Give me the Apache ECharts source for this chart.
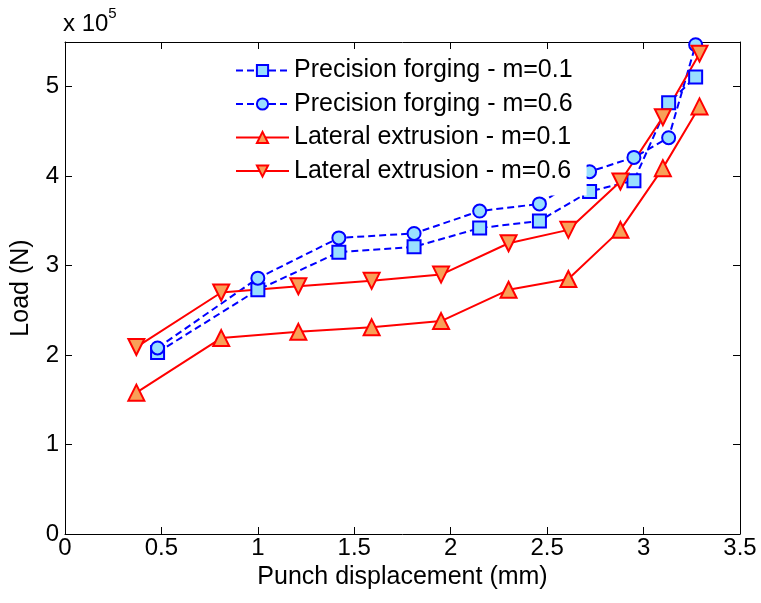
<!DOCTYPE html>
<html>
<head>
<meta charset="utf-8">
<script src="https://cdn.jsdelivr.net/npm/echarts@6/dist/echarts.min.js"></script>
<style>
  html, body { margin: 0; padding: 0; background: #fff; }
  #chart { width: 761px; height: 603px; }
</style>
</head>
<body>
<div id="chart"></div>
<script>
// load values in units of 1e5 N
const seriesNames = [
  'Precision forging - m=0.1',
  'Precision forging - m=0.6',
  'Lateral extrusion - m=0.1',
  'Lateral extrusion - m=0.6'
];
const precisionX = [0.48, 1.0, 1.42, 1.81, 2.15, 2.46, 2.72, 2.95, 3.13, 3.27];
const precision01 = [2.03, 2.73, 3.15, 3.21, 3.42, 3.50, 3.83, 3.95, 4.82, 5.11];
const precision06 = [2.08, 2.86, 3.31, 3.36, 3.61, 3.69, 4.05, 4.21, 4.43, 5.47];
const lateralX = [0.37, 0.81, 1.21, 1.59, 1.95, 2.30, 2.61, 2.88, 3.10, 3.29];
const lateral01 = [1.58, 2.19, 2.26, 2.31, 2.38, 2.73, 2.85, 3.40, 4.09, 4.78];
const lateral06 = [2.09, 2.70, 2.77, 2.83, 2.90, 3.25, 3.40, 3.94, 4.66, 5.37];

const font = 'Liberation Sans, Arial, sans-serif';
const blue = '#0000ff';
const red = '#ff0000';

function pairs(xs, ys) {
  return xs.map((x, i) => [x, ys[i]]);
}

function boxAxis(base) {
  return Object.assign({
    axisLine: { show: true, onZero: false, lineStyle: { color: '#000', width: 1 } },
    axisTick: { show: true, inside: true, length: 7, lineStyle: { color: '#000' } },
    splitLine: { show: false }
  }, base);
}

const chart = echarts.init(document.getElementById('chart'), null, { renderer: 'canvas' });

const option = {
  animation: false,
  backgroundColor: '#fff',
  textStyle: { fontFamily: font },
  grid: { left: 65, right: 21, top: 42, bottom: 69 },
  legend: {
    left: 229,
    top: 54,
    orient: 'vertical',
    itemWidth: 53,
    itemHeight: 14,
    itemGap: 8.5,
    padding: [4, 14, 12, 6],
    backgroundColor: '#fff',
    textStyle: { fontFamily: font, fontSize: 25, lineHeight: 25, color: '#000' },
    data: seriesNames
  },
  xAxis: [
    boxAxis({
      type: 'value', min: 0, max: 3.5, interval: 0.5,
      name: 'Punch displacement (mm)', nameLocation: 'middle', nameGap: 29,
      nameTextStyle: { fontFamily: font, fontSize: 25, color: '#000' },
      axisLabel: { fontFamily: font, fontSize: 24, color: '#000', margin: 2 }
    }),
    boxAxis({
      type: 'value', min: 0, max: 3.5, interval: 0.5, position: 'top',
      axisLabel: { show: false }
    })
  ],
  yAxis: [
    boxAxis({
      type: 'value', min: 0, max: 5.5, interval: 1,
      name: 'Load (N)', nameLocation: 'middle', nameGap: 31,
      nameTextStyle: { fontFamily: font, fontSize: 25, color: '#000' },
      axisLabel: {
        fontFamily: font, fontSize: 24, color: '#000', margin: 6,
        formatter: v => (v > 5 ? '' : String(v))
      }
    }),
    boxAxis({
      type: 'value', min: 0, max: 5.5, interval: 1, position: 'right',
      axisLabel: { show: false }
    })
  ],
  graphic: [{
    type: 'text',
    left: 63,
    top: 6,
    style: {
      text: '{a|x 10}{b|5}',
      rich: {
        a: { fontFamily: font, fontSize: 24, fill: '#000', verticalAlign: 'bottom', lineHeight: 30 },
        b: { fontFamily: font, fontSize: 15, fill: '#000', verticalAlign: 'top', padding: [0, 0, 14, 0] }
      }
    }
  }],
  series: [
    {
      name: seriesNames[0], type: 'line',
      data: pairs(precisionX, precision01),
      symbol: 'rect', symbolSize: 13,
      lineStyle: { color: blue, width: 2, type: [7, 4] },
      itemStyle: { color: '#99dfff', borderColor: blue, borderWidth: 2 }
    },
    {
      name: seriesNames[1], type: 'line',
      data: pairs(precisionX, precision06),
      symbol: 'circle', symbolSize: 13,
      lineStyle: { color: blue, width: 2, type: [7, 4] },
      itemStyle: { color: '#99dfff', borderColor: blue, borderWidth: 2 }
    },
    {
      name: seriesNames[2], type: 'line',
      data: pairs(lateralX, lateral01),
      symbol: 'triangle', symbolSize: 16,
      lineStyle: { color: red, width: 2 },
      itemStyle: { color: '#f8a058', borderColor: red, borderWidth: 2 }
    },
    {
      name: seriesNames[3], type: 'line',
      data: pairs(lateralX, lateral06),
      symbol: 'triangle', symbolSize: 16, symbolRotate: 180,
      lineStyle: { color: red, width: 2 },
      itemStyle: { color: '#f8a058', borderColor: red, borderWidth: 2 }
    }
  ]
};

chart.setOption(option);
</script>
</body>
</html>
